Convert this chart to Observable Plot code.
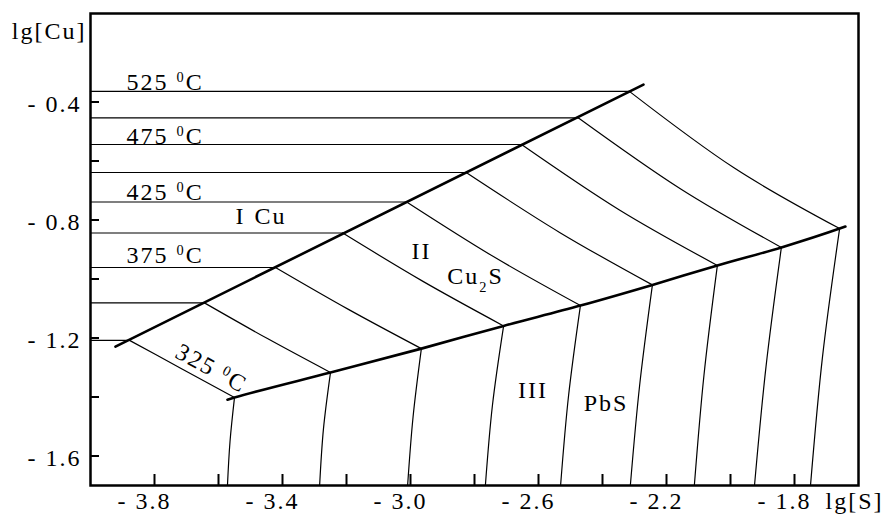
<!DOCTYPE html>
<html><head><meta charset="utf-8">
<script src="https://cdn.jsdelivr.net/npm/d3@7"></script>
<script src="https://cdn.jsdelivr.net/npm/@observablehq/plot@0.6"></script>
<style>
html,body{margin:0;padding:0;background:#fff;}
</style></head><body><div id="chart"></div>
<script>
// Isotherms (°C)
const temps = [325, 350, 375, 400, 425, 450, 475, 500, 525];
// Field I (Cu): horizontal isotherm level lg[Cu], ending on the Cu / Cu2S boundary at cuEdgeX
const isoY = [-1.208, -1.081, -0.961, -0.844, -0.739, -0.639, -0.544, -0.454, -0.364];
const cuEdgeX = [-3.878, -3.644, -3.422, -3.212, -3.012, -2.826, -2.653, -2.475, -2.316];
// Field II (Cu2S): tie line middle point
const tieMidX = [-3.714, -3.447, -3.194, -2.961, -2.741, -2.534, -2.347, -2.158, -1.988];
const tieMidY = [-1.305, -1.202, -1.103, -1.008, -0.924, -0.842, -0.766, -0.693, -0.624];
// Cu2S / PbS boundary crossings
const pbsEdgeX = [-3.550, -3.250, -2.966, -2.709, -2.469, -2.244, -2.041, -1.841, -1.659];
const pbsEdgeY = [-1.402, -1.317, -1.236, -1.159, -1.090, -1.020, -0.954, -0.893, -0.829];
// Field III (PbS): middle point and end at the bottom of the chart
const lowMidX = [-3.564, -3.272, -2.992, -2.744, -2.506, -2.284, -2.083, -1.889, -1.7125];
const lowMidY = [-1.551, -1.508, -1.468, -1.429, -1.395, -1.361, -1.327, -1.297, -1.264];
const bottomX = [-3.572, -3.284, -3.009, -2.766, -2.531, -2.313, -2.113, -1.925, -1.750];
// Phase boundaries (ends)
const cuBoundX = [-3.922, -2.272];
const cuBoundY = [-1.229, -0.341];
const pbsBoundStart = [-3.572, -1.409];
const pbsBoundEnd = [-1.641, -0.822];
// Axes
const xDomain = [-4.0, -1.6];
const yDomain = [-1.7, -0.1];
const xTickLabels = [-3.8, -3.4, -3.0, -2.6, -2.2, -1.8];
const xMinorTicks = [-3.6, -3.2, -2.8, -2.4, -2.0];
const yTickLabels = [-0.4, -0.8, -1.2, -1.6];
const yMinorTicks = [-0.6, -1.0, -1.4];
// Annotations
const isoLabelText = ["525 \u2070C", "475 \u2070C", "425 \u2070C", "375 \u2070C"];
const isoLabelX = [-3.8875, -3.8875, -3.8875, -3.8875];
const isoLabelY = [-0.334, -0.517, -0.707, -0.920];
const lowLabel = {text: "325 \u2070C", x: -3.622, y: -1.303, angle: 28.5};
const fieldText = ["I", "Cu", "II", "Cu\u2082S", "III", "PbS"];
const fieldX = [-3.531, -3.4375, -2.966, -2.797, -2.617, -2.389];
const fieldY = [-0.788, -0.788, -0.907, -0.992, -1.378, -1.422];
const fieldAnchor = ["middle", "start", "middle", "middle", "middle", "middle"];

const segs = [];
temps.forEach((t, i) => {
  segs.push({id: "h" + t, x: xDomain[0], y: isoY[i]}, {id: "h" + t, x: cuEdgeX[i], y: isoY[i]});
  segs.push({id: "t" + t, x: cuEdgeX[i], y: isoY[i]}, {id: "t" + t, x: tieMidX[i], y: tieMidY[i]}, {id: "t" + t, x: pbsEdgeX[i], y: pbsEdgeY[i]});
  segs.push({id: "v" + t, x: pbsEdgeX[i], y: pbsEdgeY[i]}, {id: "v" + t, x: lowMidX[i], y: lowMidY[i]}, {id: "v" + t, x: bottomX[i], y: yDomain[0]});
});
const cuBound = cuBoundX.map((x, i) => ({x, y: cuBoundY[i]}));
const pbsBound = [{x: pbsBoundStart[0], y: pbsBoundStart[1]}]
  .concat(pbsEdgeX.map((x, i) => ({x, y: pbsEdgeY[i]})))
  .concat([{x: pbsBoundEnd[0], y: pbsBoundEnd[1]}]);
const isoLabels = isoLabelText.map((text, i) => ({text, x: isoLabelX[i], y: isoLabelY[i]}));
const fields = fieldText.map((text, i) => ({text, x: fieldX[i], y: fieldY[i], a: fieldAnchor[i]}));

const fmt = d => "- " + Math.abs(d).toFixed(1);
const W = 885, H = 519, ML = 90, MR = 27, MT = 13, MB = 34;
const fw = W - ML - MR, fh = H - MT - MB;

const chart = Plot.plot({
  width: W, height: H,
  marginLeft: ML, marginRight: MR, marginTop: MT, marginBottom: MB,
  x: {domain: xDomain},
  y: {domain: yDomain},
  style: "font-family: 'Liberation Serif', 'Times New Roman', serif; font-size: 24px; letter-spacing: 2px; background: #fff; color: #000; overflow: visible;",
  marks: [
    Plot.tickY(yTickLabels.concat(yMinorTicks), {y: d => d, insetRight: fw - 9, strokeWidth: 2, stroke: "black"}),
    Plot.tickX(xTickLabels.concat(xMinorTicks), {x: d => d, insetTop: fh - 11, strokeWidth: 2, stroke: "black"}),
    Plot.axisY(yTickLabels, {tickSize: 0, tickPadding: 9, tickFormat: fmt, label: null, dy: 2, fill: "black"}),
    Plot.axisX(xTickLabels, {tickSize: 0, tickPadding: 6, tickFormat: fmt, label: null, dx: -10, fill: "black"}),
    Plot.line(segs, {x: "x", y: "y", z: "id", curve: "natural", stroke: "black", strokeWidth: 1.2}),
    Plot.line(cuBound, {x: "x", y: "y", stroke: "black", strokeWidth: 2.6}),
    Plot.line(pbsBound, {x: "x", y: "y", curve: "monotone-x", stroke: "black", strokeWidth: 2.6}),
    Plot.frame({stroke: "black", strokeWidth: 2.5}),
    Plot.text(isoLabels, {x: "x", y: "y", text: "text", textAnchor: "start", fill: "black"}),
    Plot.text([lowLabel], {x: "x", y: "y", text: "text", rotate: lowLabel.angle, fill: "black"}),
    Plot.text(fields, {x: "x", y: "y", text: "text", textAnchor: d => d.a, fill: "black"}),
    Plot.text(["lg[Cu]"], {frameAnchor: "top-left", lineAnchor: "middle", text: d => d, textAnchor: "end", dx: -4, dy: 18, fill: "black"}),
    Plot.text(["lg[S]"], {frameAnchor: "bottom-right", lineAnchor: "middle", text: d => d, textAnchor: "start", dx: -33, dy: 16, fill: "black"})
  ]
});
document.getElementById("chart").appendChild(chart);

// small superscript / subscript glyphs as tspans
chart.querySelectorAll("text").forEach(t => {
  const s = t.textContent;
  const m = s.match(/[\u2070\u2082]/);
  if (!m || t.children.length) return;
  const i = m.index;
  const ch = s[i] === "\u2070" ? "0" : "2";
  const shift = s[i] === "\u2070" ? "super" : "sub";
  t.textContent = "";
  const ns = "http://www.w3.org/2000/svg";
  const a = document.createElementNS(ns, "tspan"); a.textContent = s.slice(0, i);
  const b = document.createElementNS(ns, "tspan"); b.textContent = ch;
  b.setAttribute("font-size", "60%"); b.setAttribute("baseline-shift", shift);
  const c = document.createElementNS(ns, "tspan"); c.textContent = s.slice(i + 1);
  t.append(a, b, c);
});
</script>
</body></html>
